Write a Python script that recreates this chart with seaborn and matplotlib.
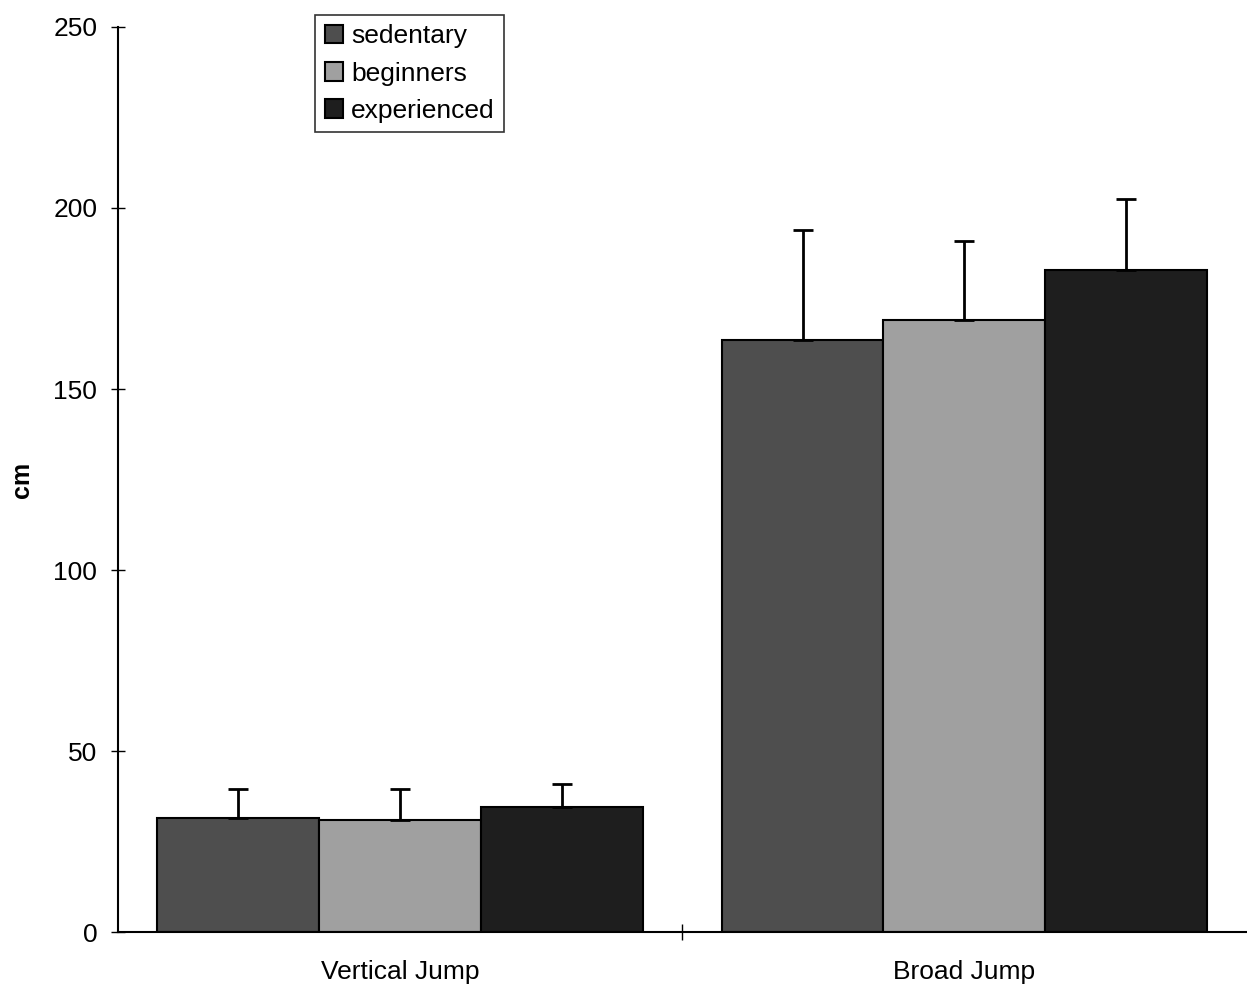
import matplotlib
matplotlib.use("Agg")
import matplotlib.pyplot as plt
import seaborn as sns
import pandas as pd
import numpy as np

tests = ["Vertical Jump", "Broad Jump"]
groups = ["sedentary", "beginners", "experienced"]
sedentary = [31.5, 163.5]
beginners = [31.0, 169.0]
experienced = [34.5, 183.0]
sedentary_sd = [8.0, 30.5]
beginners_sd = [8.5, 22.0]
experienced_sd = [6.5, 19.5]

rows = []
for g, vals, sds in zip(groups, [sedentary, beginners, experienced],
                        [sedentary_sd, beginners_sd, experienced_sd]):
    for t, v, s in zip(tests, vals, sds):
        rows.append({"test": t, "group": g, "cm": v, "sd": s})
df = pd.DataFrame(rows)

sns.set_theme(style="white")
plt.rcParams["font.family"] = ["Liberation Sans", "DejaVu Sans"]
plt.rcParams["text.color"] = "black"
plt.rcParams["axes.labelcolor"] = "black"
plt.rcParams["xtick.color"] = "black"
plt.rcParams["ytick.color"] = "black"

fig = plt.figure(figsize=(12.47, 9.96), dpi=100)
ax = fig.add_axes([0.0946, 0.064, 0.905, 0.909])

palette = {"sedentary": "#4e4e4e", "beginners": "#a0a0a0", "experienced": "#1e1e1e"}
sns.barplot(data=df, x="test", y="cm", hue="group", order=tests, hue_order=groups,
            palette=palette, width=0.86, errorbar=None, edgecolor="black",
            linewidth=1.5, ax=ax, saturation=1)

# error bars (upward only)
bars = [p for p in ax.patches if p.get_height() > 0]
for i, g in enumerate(groups):
    sub = df[df["group"] == g].set_index("test").loc[tests]
    for j, t in enumerate(tests):
        p = bars[i * len(tests) + j]
        xc = p.get_x() + p.get_width() / 2
        ax.errorbar(xc, sub.loc[t, "cm"], yerr=[[0], [sub.loc[t, "sd"]]],
                    fmt="none", ecolor="black", elinewidth=2, capsize=7,
                    capthick=2)

ax.set_xlim(-0.5, 1.5)
ax.set_ylim(0, 250)
ax.set_yticks([0, 50, 100, 150, 200, 250])
ax.tick_params(axis="y", direction="inout", length=10, width=1, labelsize=19,
               left=True, pad=10)
ax.tick_params(axis="x", length=0, labelsize=19, pad=20)
ax.set_xticks([0.5], minor=True)
ax.tick_params(axis="x", which="minor", direction="inout", length=12, width=1,
               bottom=True)
ax.set_xlabel("")
ax.set_ylabel("cm", fontsize=18, fontweight="bold", labelpad=14)

for s in ["top", "right"]:
    ax.spines[s].set_visible(False)
for s in ["left", "bottom"]:
    ax.spines[s].set_color("black")
    ax.spines[s].set_linewidth(1.5)

leg = ax.legend(loc="upper left", bbox_to_anchor=(0.175, 1.013), borderaxespad=0,
                fontsize=19, frameon=True, fancybox=False, edgecolor="black",
                handlelength=0.7, handleheight=0.7, handletextpad=0.3,
                labelspacing=0.5, borderpad=0.35)
leg.get_frame().set_linewidth(1.2)
for txt in leg.get_texts():
    txt.set_color("black")

fig.savefig("out.png", dpi=100)
